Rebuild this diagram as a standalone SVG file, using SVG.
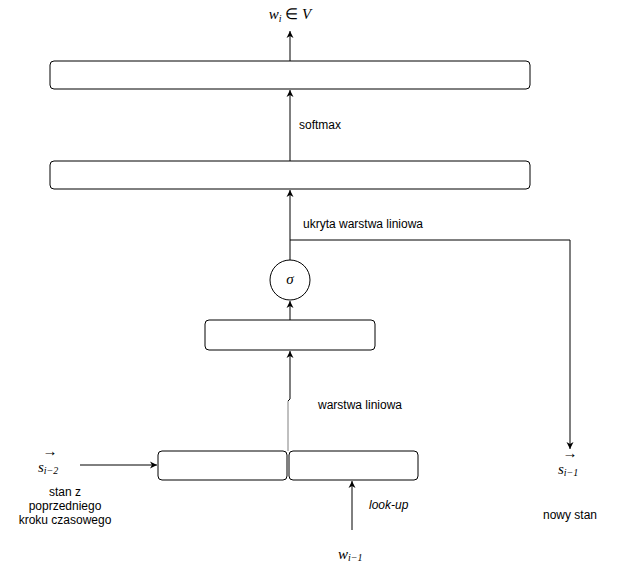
<svg xmlns="http://www.w3.org/2000/svg" width="621" height="575" viewBox="0 0 621 575">
<style>
.box{fill:#fff;stroke:#000;stroke-width:1}
.ln{fill:none;stroke:#000;stroke-width:1}
.t{font-family:"Liberation Sans",Arial,sans-serif;font-size:12px;fill:#000}
.m{font-family:"Liberation Serif","Times New Roman",serif;font-style:italic;font-size:15px;fill:#000}
.ms{font-family:"Liberation Serif","Times New Roman",serif;font-style:italic;font-size:10px;fill:#000}
.mu{font-family:"Liberation Serif","Times New Roman",serif;font-size:15px;fill:#000}
</style>
<defs>
<marker id="ah" markerWidth="8" markerHeight="8" refX="7" refY="4" orient="auto" markerUnits="userSpaceOnUse">
<path d="M0,0.5 L7,4 L0,7.5 L2,4 Z" fill="#000"/>
</marker>
</defs>
<rect width="621" height="575" fill="#fff"/>
<g id="connectors">
<path class="ln" d="M290,61 L290,31" marker-end="url(#ah)"/>
<path class="ln" d="M290,161 L290,90" marker-end="url(#ah)"/>
<path class="ln" d="M290,260 L290,190" marker-end="url(#ah)"/>
<path class="ln" d="M290,240 L570,240 L570,449" marker-end="url(#ah)"/>
<path class="ln" d="M290,320 L290,301" marker-end="url(#ah)"/>
<path d="M288,451 L288,401" fill="none" stroke="#808080" stroke-width="1"/>
<path class="ln" d="M288,401 L290,399 L290,351" marker-end="url(#ah)"/>
<path class="ln" d="M80,465 L157,465" marker-end="url(#ah)"/>
<path class="ln" d="M352,530 L352,481" marker-end="url(#ah)"/>
</g>
<g id="output-box"><rect class="box" x="50" y="61" width="480" height="28" rx="4"/></g>
<g id="hidden-box"><rect class="box" x="50" y="161" width="480" height="28" rx="4"/></g>
<g id="sigma"><circle class="box" cx="290" cy="280" r="20"/><text class="m" x="290" y="284" text-anchor="middle">σ</text></g>
<g id="linear-box"><rect class="box" x="205" y="320" width="170" height="30" rx="4"/></g>
<g id="state-box"><rect class="box" x="158" y="451" width="129" height="29" rx="4"/></g>
<g id="word-box"><rect class="box" x="289" y="451" width="129" height="29" rx="4"/></g>
<g id="labels">
<text x="290" y="19" text-anchor="middle"><tspan class="m">w</tspan><tspan class="ms" dy="3">i</tspan><tspan class="mu" dy="-3"> ∈ </tspan><tspan class="m">V</tspan></text>
<text class="t" x="299" y="129">softmax</text>
<text class="t" x="303" y="228">ukryta warstwa liniowa</text>
<text class="t" x="318" y="409">warstwa liniowa</text>
<text class="t" x="369" y="509" font-style="italic">look-up</text>
<text x="38" y="472"><tspan class="m">s</tspan><tspan class="ms" dy="2">i−2</tspan></text>
<text class="mu" x="50" y="456" text-anchor="middle" font-size="13">→</text>
<text class="t" x="65" y="496" text-anchor="middle">stan z</text>
<text class="t" x="65" y="510" text-anchor="middle">poprzedniego</text>
<text class="t" x="65" y="524" text-anchor="middle">kroku czasowego</text>
<text x="558" y="474"><tspan class="m">s</tspan><tspan class="ms" dy="2">i−1</tspan></text>
<text class="mu" x="570" y="458" text-anchor="middle" font-size="13">→</text>
<text class="t" x="570" y="519" text-anchor="middle">nowy stan</text>
<text x="338" y="559"><tspan class="m">w</tspan><tspan class="ms" dy="2">i−1</tspan></text>
</g>
</svg>
